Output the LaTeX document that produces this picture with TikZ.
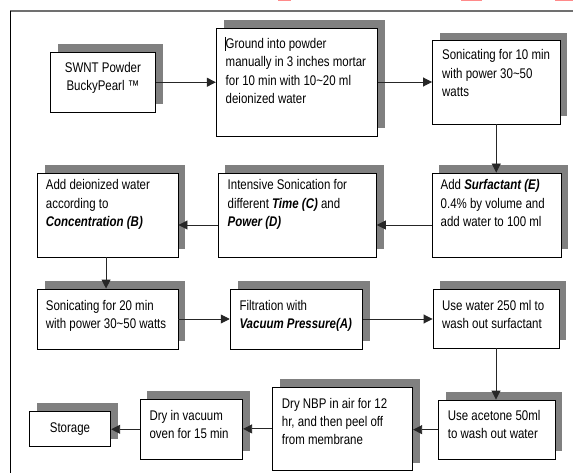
\documentclass[tikz,border=0pt]{standalone}
\usepackage{fontspec}
\setmainfont{Liberation Sans}[FakeStretch=0.82]
\usetikzlibrary{arrows.meta,shadows}
\definecolor{shadowgray}{HTML}{808080}
\definecolor{framegray}{HTML}{707070}
\definecolor{markred}{HTML}{FF8A8A}
\newcommand{\bi}[1]{\textbf{\textit{#1}}}
\newcommand{\tl}{\textasciitilde{}}
\tikzset{
  box/.style={draw=black, line width=0.9pt, fill=white, rectangle, inner sep=0pt,
    general shadow={fill=shadowgray, shadow xshift=7.3pt, shadow yshift=8pt}},
  txt/.style={inner sep=0pt, font=\fontsize{14pt}{18.3pt}\selectfont},
  arr/.style={draw=black!85, line width=0.9pt, -{Triangle[length=9pt,width=9pt]}},
}
\begin{document}
\begin{tikzpicture}[x=1pt,y=-1pt]
\useasboundingbox (0,0) rectangle (573,473);
% red marks at top edge
\fill[markred] (277.7,0) rectangle (290.5,1.3);
\fill[markred] (461,0) rectangle (481.5,1.3);
\fill[markred] (555,0) rectangle (573,1.3);
% outer frame
\draw[framegray, line width=1.1pt] (10,11) -- (573,11);
\draw[black, line width=0.9pt] (10,11) -- (10,473);
% boxes
\node[box, minimum width=104.8pt, minimum height=59.5pt] (swnt) at (102.9,82.25) {};
\node[box, minimum width=161pt, minimum height=108pt] (ground) at (296.8,82) {};
\node[box, minimum width=127.5pt, minimum height=83.3pt] (son10) at (496.25,82.35) {};
\node[box, minimum width=129pt, minimum height=84pt] (surf) at (496.5,215) {};
\node[box, minimum width=158.2pt, minimum height=84pt] (inten) at (297.2,215) {};
\node[box, minimum width=140.7pt, minimum height=84pt] (adddi) at (107.65,215) {};
\node[box, minimum width=140.7pt, minimum height=60pt] (son20) at (107.65,319) {};
\node[box, minimum width=132.6pt, minimum height=60pt] (filt) at (296.5,319) {};
\node[box, minimum width=126pt, minimum height=59pt] (wat) at (496,318.5) {};
\node[box, minimum width=116.7pt, minimum height=59.3pt] (acet) at (496.65,429.65) {};
\node[box, minimum width=140.2pt, minimum height=83.2pt] (nbp) at (342.6,428.9) {};
\node[box, minimum width=102.7pt, minimum height=60pt] (vac) at (191.35,429.3) {};
\node[box, minimum width=81.4pt, minimum height=35.7pt] (stor) at (70,428.85) {};
% texts
\node[txt, anchor=base] (tswnt) at (102.9,72.5) {\parbox[t]{100pt}{\centering SWNT Powder\\BuckyPearl ™}};
\node[txt, anchor=base west] (tground) at (225.5,48.5) {\parbox[t]{150pt}{\raggedright Ground into powder\\manually in 3 inches mortar\\for 10 min with 10\tl 20 ml\\deionized water}};
\draw[black, line width=0.6pt] (225,37) -- (225,51);
\node[txt, anchor=base west] (tson10) at (442,60) {\parbox[t]{118pt}{\raggedright Sonicating for 10 min\\with power 30\tl 50\\watts}};
\node[txt, anchor=base west] (tsurf) at (440.5,190) {\parbox[t]{118pt}{\raggedright Add \bi{Surfactant (E)}\\0.4\% by volume and\\add water to 100 ml}};
\node[txt, anchor=base west] (tinten) at (227.5,190) {\parbox[t]{145pt}{\raggedright Intensive Sonication for\\different \bi{Time (C)} and\\\bi{Power (D)}}};
\node[txt, anchor=base west] (tadddi) at (45.7,190) {\parbox[t]{130pt}{\raggedright Add deionized water\\according to\\\bi{Concentration (B)}}};
\node[txt, anchor=base west] (tson20) at (45.7,310) {\parbox[t]{130pt}{\raggedright Sonicating for 20 min\\with power 30\tl 50 watts}};
\node[txt, anchor=base west] (tfilt) at (239.3,310) {\parbox[t]{122pt}{\raggedright Filtration with\\\bi{Vacuum Pressure(A)}}};
\node[txt, anchor=base west] (twat) at (442,310) {\parbox[t]{115pt}{\raggedright Use water 250 ml to\\wash out surfactant}};
\node[txt, anchor=base west] (tacet) at (447.7,420) {\parbox[t]{105pt}{\raggedright Use acetone 50ml\\to wash out water}};
\node[txt, anchor=base west] (tnbp) at (281.7,408.3) {\parbox[t]{128pt}{\raggedright Dry NBP in air for 12\\hr, and then peel off\\from membrane}};
\node[txt, anchor=base west] (tvac) at (149.3,420) {\parbox[t]{92pt}{\raggedright Dry in vacuum\\oven for 15 min}};
\node[txt, anchor=base] (tstor) at (70,432) {Storage};
% connectors
\draw[arr] (swnt.east) -- (swnt.east -| ground.west);
\draw[arr] (ground.east) -- (ground.east -| son10.west);
\draw[arr] (son10.south) -- (son10.south |- surf.north);
\draw[arr] ([yshift=-10pt]surf.west) -- ([yshift=-10pt]surf.west -| inten.east);
\draw[arr] ([yshift=-10pt]inten.west) -- ([yshift=-10pt]inten.west -| adddi.east);
\draw[arr] ([xshift=-1.6pt]adddi.south) -- ([xshift=-1.6pt]adddi.south |- son20.north);
\draw[arr] (son20.east) -- (son20.east -| filt.west);
\draw[arr] (filt.east) -- (filt.east -| wat.west);
\draw[arr] (wat.south) -- (wat.south |- acet.north);
\draw[arr] (acet.west) -- (acet.west -| nbp.east);
\draw[arr] (nbp.west) -- (nbp.west -| vac.east);
\draw[arr] (vac.west) -- (vac.west -| stor.east);
\end{tikzpicture}
\end{document}
